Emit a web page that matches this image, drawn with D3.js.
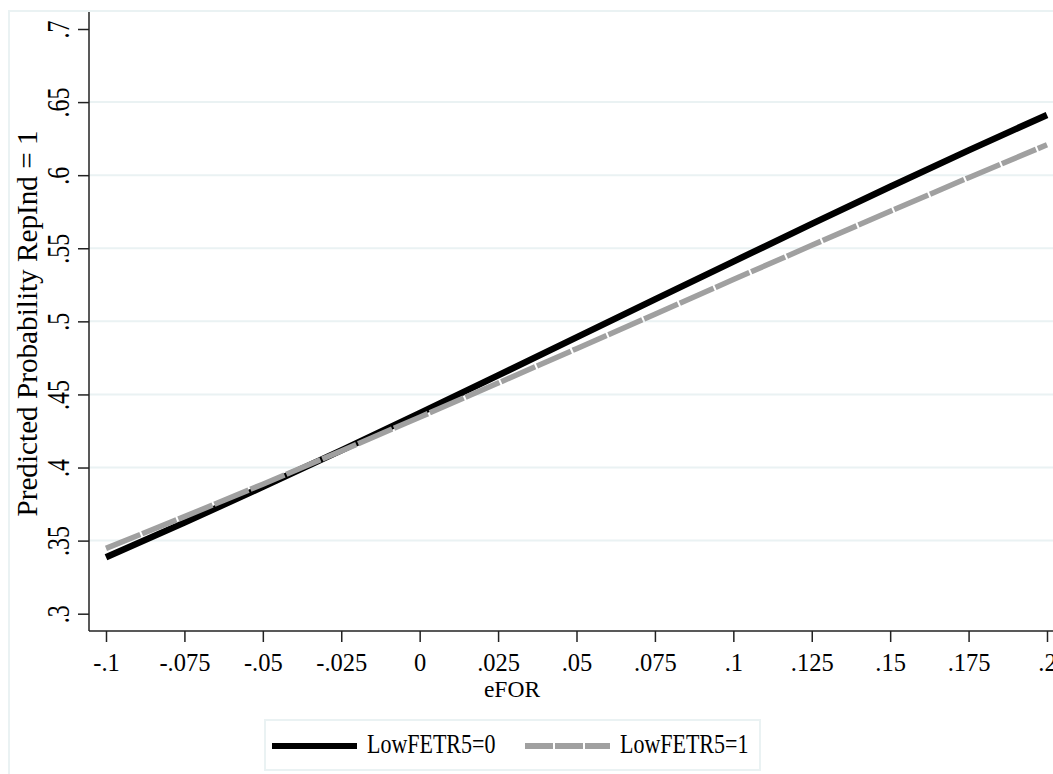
<!DOCTYPE html>
<html lang="en">
<head>
  <meta charset="UTF-8">
  <title>Predicted Probability RepInd</title>
  <script src="https://d3js.org/d3.v7.min.js"></script>
  <style>
    body { margin: 0; background: #fff; }
    svg { display: block; }
    text { font-family: "Liberation Serif", "Times New Roman", serif; fill: #000; }
    .grid { stroke: #eaf2f3; stroke-width: 2px; }
    .frame { fill: none; stroke: #eaf2f3; stroke-width: 2px; }
  </style>
</head>
<body>
  <svg width="1053" height="774"></svg>
  <script>
    // values
    const eFOR = [-0.1, -0.075, -0.05, -0.025, 0, 0.025, 0.05, 0.075, 0.1, 0.125, 0.15, 0.175, 0.2];
    const low0 = [0.3386, 0.3623, 0.3868, 0.4117, 0.4372, 0.4630, 0.4890, 0.5150, 0.5409, 0.5667, 0.5921, 0.6170, 0.6412];
    const low1 = [0.3447, 0.3664, 0.3886, 0.4113, 0.4344, 0.4578, 0.4813, 0.5049, 0.5286, 0.5520, 0.5753, 0.5983, 0.6208];

    const xTicks = [-0.1, -0.075, -0.05, -0.025, 0, 0.025, 0.05, 0.075, 0.1, 0.125, 0.15, 0.175, 0.2];
    const xTickLabels = ["-.1", "-.075", "-.05", "-.025", "0", ".025", ".05", ".075", ".1", ".125", ".15", ".175", ".2"];
    const yTicks = [0.3, 0.35, 0.4, 0.45, 0.5, 0.55, 0.6, 0.65, 0.7];
    const yTickLabels = [".3", ".35", ".4", ".45", ".5", ".55", ".6", ".65", ".7"];
    const gridVals = [0.35, 0.4, 0.45, 0.5, 0.55, 0.6, 0.65];

    const seriesNames = ["LowFETR5=0", "LowFETR5=1"];

    const svg = d3.select("svg");

    const x = d3.scaleLinear().domain([-0.1, 0.2]).range([106, 1047]);
    const y = d3.scaleLinear().domain([0.3, 0.7]).range([613.7, 29]);

    const axisX = 89, axisY = 631, plotTop = 12, plotRight = 1053;

    // outer graph frame
    svg.append("path")
      .attr("class", "frame")
      .attr("d", `M9,790 L9,11 L1060,11`);

    // grid
    svg.append("g").selectAll("line")
      .data(gridVals)
      .join("line")
      .attr("class", "grid")
      .attr("x1", axisX).attr("x2", plotRight)
      .attr("y1", d => y(d)).attr("y2", d => y(d));

    // x axis
    const gx = svg.append("g")
      .attr("transform", `translate(0,${axisY})`)
      .call(d3.axisBottom(x)
        .tickValues(xTicks)
        .tickFormat((d, i) => xTickLabels[i])
        .tickSize(11)
        .tickSizeOuter(0));
    gx.select(".domain").remove();
    gx.selectAll(".tick line").attr("stroke", "#222").attr("stroke-width", 1.5);
    gx.selectAll(".tick text")
      .attr("font-size", 24.5)
      .attr("font-family", "Liberation Serif")
      .attr("y", 40).attr("dy", 0);
    svg.append("line")
      .attr("x1", axisX).attr("x2", plotRight)
      .attr("y1", axisY).attr("y2", axisY)
      .attr("stroke", "#222").attr("stroke-width", 1.5);

    // y axis
    const gy = svg.append("g")
      .attr("transform", `translate(${axisX},0)`)
      .call(d3.axisLeft(y)
        .tickValues(yTicks)
        .tickFormat((d, i) => yTickLabels[i])
        .tickSize(11)
        .tickSizeOuter(0));
    gy.select(".domain").remove();
    gy.selectAll(".tick line").attr("stroke", "#222").attr("stroke-width", 1.5);
    gy.selectAll(".tick text")
      .attr("font-size", 24)
      .attr("font-family", "Liberation Serif")
      .attr("x", 0).attr("dy", 0)
      .attr("text-anchor", "middle")
      .attr("transform", "translate(-20,0) rotate(-90) scale(1,1.3)");
    svg.append("line")
      .attr("x1", axisX).attr("x2", axisX)
      .attr("y1", plotTop).attr("y2", axisY)
      .attr("stroke", "#222").attr("stroke-width", 1.5);

    // axis titles
    svg.append("text")
      .attr("x", 512).attr("y", 697)
      .attr("text-anchor", "middle")
      .attr("font-size", 23.5)
      .text("eFOR");
    svg.append("text")
      .attr("transform", `translate(37,${(130 + 517) / 2}) rotate(-90)`)
      .attr("text-anchor", "middle")
      .attr("font-size", 29.2)
      .text("Predicted Probability RepInd = 1");

    // lines
    const line = d3.line()
      .x((d, i) => x(eFOR[i]))
      .y(d => y(d));

    svg.append("path")
      .datum(low0)
      .attr("fill", "none")
      .attr("stroke", "#000")
      .attr("stroke-width", 6.5)
      .attr("d", line);

    svg.append("path")
      .datum(low1)
      .attr("fill", "none")
      .attr("stroke", "#a0a0a0")
      .attr("stroke-width", 5.5)
      .attr("stroke-dasharray", "37,2")
      .attr("d", line);

    // legend
    const leg = svg.append("g");
    leg.append("rect")
      .attr("x", 265).attr("y", 720)
      .attr("width", 495).attr("height", 50)
      .attr("fill", "#fff")
      .attr("stroke", "#eaf2f3").attr("stroke-width", 2);

    const legItems = [
      { name: seriesNames[0], color: "#000", dash: null, x0: 272, x1: 357, tx: 367 },
      { name: seriesNames[1], color: "#a0a0a0", dash: "28,2", x0: 525, x1: 610, tx: 620 }
    ];
    legItems.forEach(it => {
      leg.append("line")
        .attr("x1", it.x0).attr("x2", it.x1)
        .attr("y1", 746).attr("y2", 746)
        .attr("stroke", it.color)
        .attr("stroke-width", 6)
        .attr("stroke-dasharray", it.dash);
      leg.append("text")
        .attr("transform", `translate(${it.tx},753) scale(1,1.27)`)
        .attr("font-size", 22)
        .text(it.name);
    });
  </script>
</body>
</html>
